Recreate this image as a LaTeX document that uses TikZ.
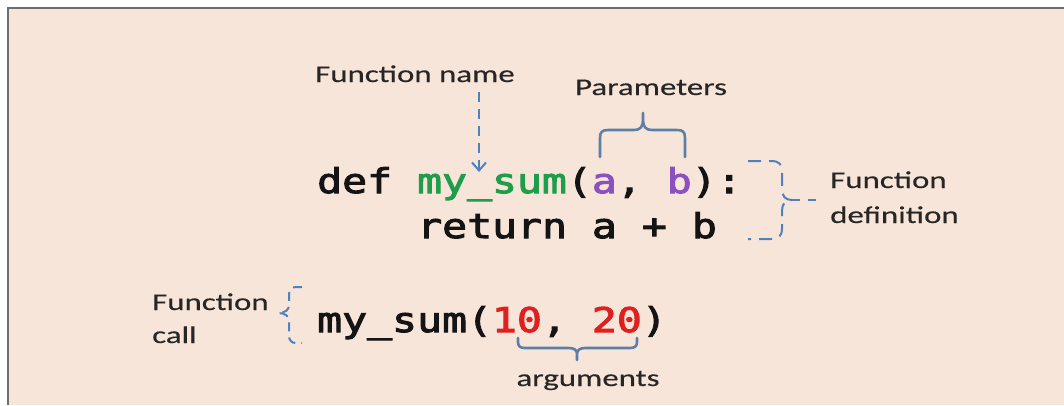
\documentclass[tikz,border=0pt]{standalone}
\usepackage{fontspec}
\setmainfont{Carlito}[FakeStretch=1.37, FakeBold=0.3]
\newfontfamily\codefont{DejaVu Sans Mono}[FakeStretch=1.22, FakeBold=3]
\usetikzlibrary{arrows.meta}
\definecolor{bgpeach}{HTML}{F8E5D9}
\definecolor{framegray}{HTML}{6E6E6E}
\definecolor{lblcol}{HTML}{262626}
\definecolor{codecol}{HTML}{141414}
\definecolor{fgreen}{HTML}{1E9E4A}
\definecolor{fpurple}{HTML}{8A52BE}
\definecolor{fred}{HTML}{DE2020}
\definecolor{dashblue}{HTML}{4F81BD}
\definecolor{bracecol}{HTML}{5B7FA6}
\tikzset{
  lbl/.style={inner sep=0pt, text=lblcol, font=\fontsize{24}{29}\selectfont},
  codetxt/.style={inner sep=0pt, text=codecol, font=\codefont\fontsize{34}{40}\selectfont},
  dashline/.style={draw=dashblue, line width=2pt, dash pattern=on 10pt off 7pt},
  solidbrace/.style={draw=bracecol, line width=2.6pt, line cap=round, line join=round},
}
\begin{document}
\begin{tikzpicture}[x=1pt, y=-1pt]
\useasboundingbox (0,0) rectangle (1064,405);
% background and frame
\fill[white] (0,0) rectangle (1064,405);
\fill[bgpeach] (8,8) rectangle (1064,405);
\draw[framegray, line width=2pt] (8,405) -- (8,8) -- (1064,8);

% labels
\node[lbl, anchor=base west] (fname) at (315,82) {Function name};
\node[lbl, anchor=base] (params) at (651,95) {Parameters};
\node[lbl, anchor=base west] (fdef1) at (830,188) {Function};
\node[lbl, anchor=base west] (fdef2) at (830,223) {definition};
\node[lbl, anchor=base west] (fcall1) at (152,310) {Function};
\node[lbl, anchor=base west] (fcall2) at (152,343) {call};
\node[lbl, anchor=base] (args) at (588,386) {arguments};

% code
\node[codetxt, anchor=base west] (defline) at (317,193)
  {def \textcolor{fgreen}{my\_sum}(\textcolor{fpurple}{a}, \textcolor{fpurple}{b}):};
\node[codetxt, anchor=base west] (retline) at (417,238) {return a + b};
\node[codetxt, anchor=base west] (callline) at (317,332)
  {my\_sum(\textcolor{fred}{10}, \textcolor{fred}{20})};

% function name arrow
\coordinate (nameTail) at (479,92);
\coordinate (nameTip) at (479,172);
\draw[dashline, -{Straight Barb[length=8pt,width=14pt,line width=2pt]}] (nameTail) -- (nameTip);

% parameters brace
\path[solidbrace] (600,157) -- (600,138) .. controls (600,132) and (602,130) .. (608,130)
  -- (634,130) .. controls (640,130) and (643,127) .. (643,120) -- (643,113)
  (643,120) .. controls (643,127) and (646,130) .. (652,130)
  -- (677,130) .. controls (683,130) and (685,132) .. (685,138) -- (685,157);

% arguments brace
\path[solidbrace] (518,338) -- (518,342) .. controls (518,346) and (520,348) .. (525,348)
  -- (569,348) .. controls (574,348) and (577,350) .. (577,354) -- (577,360)
  (577,354) .. controls (577,350) and (580,348) .. (585,348)
  -- (630,348) .. controls (635,348) and (637,346) .. (637,342) -- (637,338);

% function definition dashed brace
\coordinate (defTip) at (792,200);
\coordinate (defEnd) at (818,200);
\draw[dashline, dash pattern=on 13pt off 8pt] (748,161) -- (771,161) .. controls (779,161) and (782,164) .. (782,172)
  -- (782,189) .. controls (782,196) and (785,200) .. (defTip)
  .. controls (785,200) and (782,204) .. (782,211)
  -- (782,228) .. controls (782,236) and (779,239) .. (771,239) -- (748,239);
\draw[dashline, dash pattern=on 8pt off 8pt] (defTip) -- (defEnd);

% function call dashed brace
\coordinate (callTip) at (278,313);
\draw[dashline, dash pattern=on 9pt off 6pt] (302,287) -- (296,287) .. controls (291,287) and (289,290) .. (289,295)
  -- (289,305) .. controls (289,310) and (285,313) .. (callTip)
  .. controls (285,313) and (289,316) .. (289,321)
  -- (289,335) .. controls (289,340) and (291,343) .. (296,343) -- (302,343);
\end{tikzpicture}
\end{document}
